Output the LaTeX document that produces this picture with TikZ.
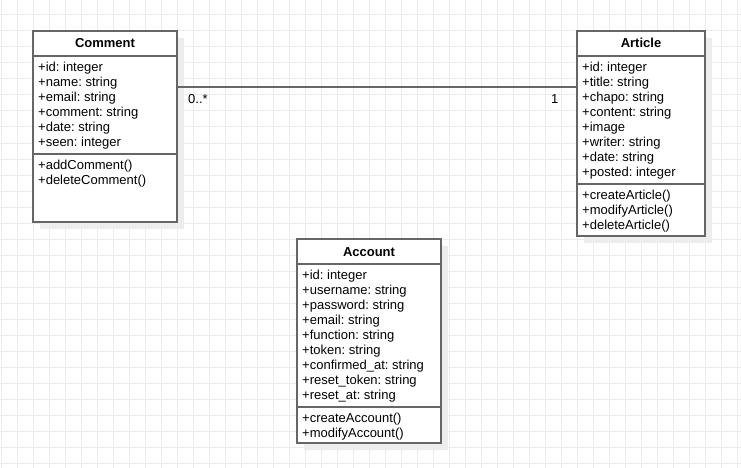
\documentclass[tikz,border=0pt]{standalone}
\usepackage{fontspec}
\setmainfont{Liberation Sans}
\frenchspacing
\definecolor{gridline}{HTML}{EBEBEB}
\definecolor{umlstroke}{HTML}{666666}
\definecolor{umlshadow}{HTML}{EDEDED}
\begin{document}
\begin{tikzpicture}[x=1pt,y=-1pt,
  classbox/.style={draw=umlstroke, line width=2pt, fill=white, rectangle,
    anchor=north west, inner sep=0pt, outer sep=0pt},
  classshadow/.style={fill=umlshadow, draw=none, rectangle,
    anchor=north west, inner sep=0pt, outer sep=0pt},
  divider/.style={draw=umlstroke, line width=2pt},
  assoc/.style={draw=umlstroke, line width=2pt},
  member/.style={anchor=base west, inner sep=0pt, font=\fontsize{13}{15}\selectfont},
  title/.style={anchor=base, inner sep=0pt, font=\fontsize{13}{15}\selectfont\bfseries},
  mult/.style={anchor=base west, inner sep=0pt, font=\fontsize{13}{15}\selectfont}]

% canvas and background grid
\useasboundingbox (0,0) rectangle (741,468);
\fill[white] (0,0) rectangle (741,468);
\foreach \gx in {0,...,46} \draw[gridline, line width=1pt] (1+16*\gx,0) -- (1+16*\gx,468);
\foreach \gy in {0,...,28} \draw[gridline, line width=1pt] (0,15+16*\gy) -- (741,15+16*\gy);

% drop shadows
\node[classshadow, minimum width=144pt, minimum height=191pt] (commentshadow) at (40,38) {};
\node[classshadow, minimum width=128pt, minimum height=205pt] (articleshadow) at (584,38) {};
\node[classshadow, minimum width=144pt, minimum height=204pt] (accountshadow) at (304,246) {};

% class frames
\node[classbox, minimum width=144pt, minimum height=191pt] (comment) at (33,31) {};
\node[classbox, minimum width=128pt, minimum height=205pt] (article) at (577,31) {};
\node[classbox, minimum width=144pt, minimum height=204pt] (account) at (297,239) {};

% compartment dividers
\draw[divider] ([yshift=-25pt]comment.north west) -- ([yshift=-25pt]comment.north east);
\draw[divider] ([yshift=-123pt]comment.north west) -- ([yshift=-123pt]comment.north east);
\draw[divider] ([yshift=-25pt]article.north west) -- ([yshift=-25pt]article.north east);
\draw[divider] ([yshift=-153pt]article.north west) -- ([yshift=-153pt]article.north east);
\draw[divider] ([yshift=-25pt]account.north west) -- ([yshift=-25pt]account.north east);
\draw[divider] ([yshift=-168pt]account.north west) -- ([yshift=-168pt]account.north east);

% class names
\node[title] (commenttitle) at (105,48) {Comment};
\node[title] (articletitle) at (641,48) {Article};
\node[title] (accounttitle) at (369,256) {Account};

% Comment members
\foreach \txt [count=\i from 0] in {+id: integer,+name: string,+email: string,+comment: string,+date: string,+seen: integer}
  \node[member] (commentattr\i) at (38,71.5+15*\i) {\txt};
\foreach \txt [count=\i from 0] in {+addComment(),+deleteComment()}
  \node[member] (commentop\i) at (38,169.5+15*\i) {\txt};

% Article members
\foreach \txt [count=\i from 0] in {+id: integer,+title: string,+chapo: string,+content: string,+image,+writer: string,+date: string,+posted: integer}
  \node[member] (articleattr\i) at (582,71.5+15*\i) {\txt};
\foreach \txt [count=\i from 0] in {+createArticle(),+modifyArticle(),+deleteArticle()}
  \node[member] (articleop\i) at (582,199.5+15*\i) {\txt};

% Account members
\foreach \txt [count=\i from 0] in {+id: integer,+username: string,+password: string,+email: string,+function: string,+token: string,+confirmed\_at: string,+reset\_token: string,+reset\_at: string}
  \node[member] (accountattr\i) at (302,279.5+15*\i) {\txt};
\foreach \txt [count=\i from 0] in {+createAccount(),+modifyAccount()}
  \node[member] (accountop\i) at (302,422+15*\i) {\txt};

% association Comment -- Article
\coordinate (linklevel) at (0,87);
\draw[assoc] (comment.east |- linklevel) -- (article.west |- linklevel);
\node[mult] (multcomment) at (188,103.5) {0..*};
\node[mult] (multarticle) at (551,103.5) {1};
\end{tikzpicture}
\end{document}
